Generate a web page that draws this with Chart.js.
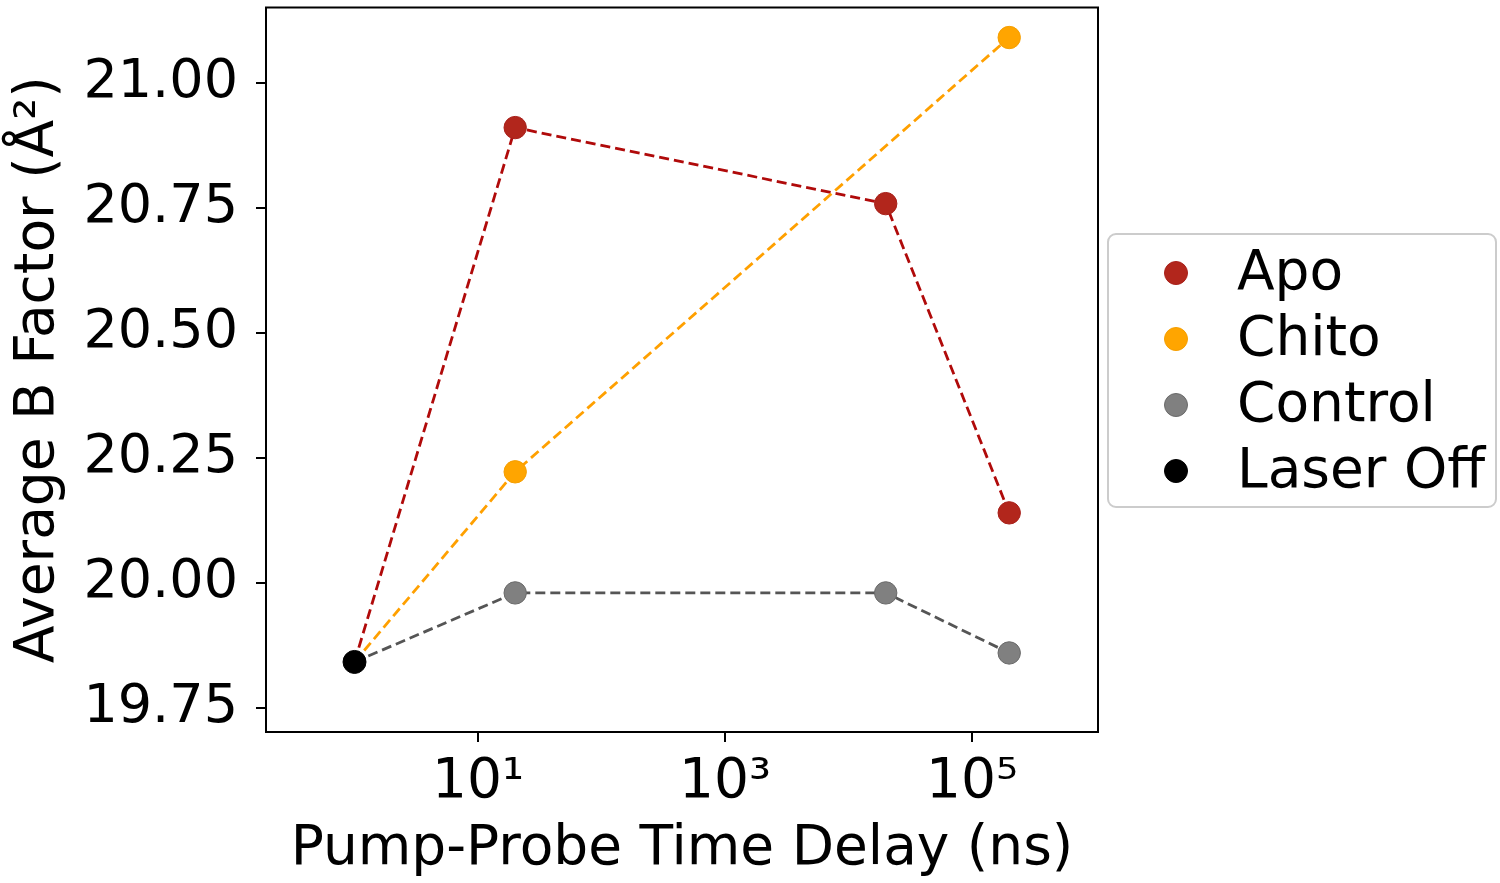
<!DOCTYPE html>
<html><head><meta charset="utf-8">
<script src="https://cdn.jsdelivr.net/npm/chart.js@4"></script>
<style>html,body{margin:0;padding:0;background:#fff;overflow:hidden}</style>
</head><body>
<canvas id="c" width="1500" height="883"></canvas>
<script>
// ---- data ----
const delays = [1, 20, 20000, 200000];
const chitoDelays = [1, 20, 200000];
const apoB = [19.842, 20.91, 20.758, 20.14];
const chitoB = [19.842, 20.222, 21.09];
const controlB = [19.842, 19.98, 19.98, 19.86];
const laserOffDelay = [1];
const laserOffB = [19.842];
const seriesNames = ['Apo', 'Chito', 'Control', 'Laser Off'];
const xTickValues = [10, 1000, 100000];
const xTickLabels = ['10\u00B9', '10\u00B3', '10\u2075'];
const yTickValues = [19.75, 20.00, 20.25, 20.50, 20.75, 21.00];

const pts = (xs, ys) => xs.map((x, i) => ({ x: x, y: ys[i] }));
const FONT = 'DejaVu Sans';
Chart.defaults.font.family = FONT;

const frame = {
  id: 'frame',
  afterDraw(chart) {
    const a = chart.chartArea, ctx = chart.ctx;
    ctx.save();
    ctx.strokeStyle = '#000';
    ctx.lineWidth = 2;
    ctx.strokeRect(a.left, a.top, a.right - a.left, a.bottom - a.top);
    ctx.restore();
  }
};

const legendBox = {
  id: 'legendBox',
  afterDraw(chart) {
    const ctx = chart.ctx;
    const x0 = 1108, y0 = 234, w = 388, h = 273, r = 8;
    ctx.save();
    ctx.beginPath();
    ctx.roundRect(x0, y0, w, h, r);
    ctx.fillStyle = 'rgba(255,255,255,0.8)';
    ctx.fill();
    ctx.strokeStyle = '#cccccc';
    ctx.lineWidth = 2;
    ctx.stroke();
    const ds = chart.data.datasets;
    ctx.font = '55px "' + FONT + '"';
    ctx.textBaseline = 'middle';
    ctx.textAlign = 'left';
    ds.forEach((d, i) => {
      const cy = 273 + i * 66;
      ctx.beginPath();
      ctx.arc(1176, cy, 11.5, 0, Math.PI * 2);
      ctx.fillStyle = d.pointBackgroundColor;
      ctx.fill();
      ctx.lineWidth = 1;
      ctx.strokeStyle = d.pointBorderColor;
      ctx.stroke();
      ctx.fillStyle = '#000';
      ctx.fillText(d.label, 1237, cy + 2);
    });
    ctx.restore();
  }
};

const lineDs = (label, data, lineColor, fill, edge, order) => ({
  label: label,
  data: data,
  showLine: true,
  borderColor: lineColor,
  borderWidth: 2.8,
  borderDash: [10, 5],
  pointRadius: data.map((p, i) => i === 0 ? 0 : 11.2),
  pointHoverRadius: data.map((p, i) => i === 0 ? 0 : 11.2),
  pointBackgroundColor: fill,
  pointBorderColor: edge,
  pointBorderWidth: 1,
  order: order
});

new Chart(document.getElementById('c'), {
  type: 'scatter',
  data: {
    datasets: [
      lineDs(seriesNames[0], pts(delays, apoB), '#b00a0a', '#b2261c', '#a8201a', 2),
      lineDs(seriesNames[1], pts(chitoDelays, chitoB), '#ffa000', '#ffa500', '#f59e00', 1),
      lineDs(seriesNames[2], pts(delays, controlB), '#555555', '#808080', '#6a6a6a', 3),
      {
        label: seriesNames[3],
        data: pts(laserOffDelay, laserOffB),
        showLine: false,
        pointRadius: 11.5,
        pointBackgroundColor: '#000000',
        pointBorderColor: '#000000',
        pointBorderWidth: 1,
        order: 0
      }
    ]
  },
  options: {
    responsive: false,
    animation: false,
    devicePixelRatio: 1,
    layout: { autoPadding: false, padding: { top: 7.5, left: 0, right: 402, bottom: 0 } },
    plugins: { legend: { display: false }, tooltip: { enabled: false } },
    scales: {
      x: {
        type: 'logarithmic',
        min: 0.192,
        max: 1.047e6,
        afterFit(s) { s.height = 151; s.paddingLeft = 0; s.paddingRight = 0; },
        afterBuildTicks(s) { s.ticks = xTickValues.map(v => ({ value: v })); },
        ticks: {
          color: '#000',
          font: { size: 55 },
          padding: 8,
          maxRotation: 0,
          autoSkip: false,
          callback: (v) => { const i = xTickValues.indexOf(v); return i >= 0 ? xTickLabels[i] : ''; }
        },
        grid: { drawOnChartArea: false, drawTicks: true, tickLength: 10, color: '#000', lineWidth: 2 },
        border: { display: true, color: '#000', width: 2 },
        title: { display: true, text: 'Pump-Probe Time Delay (ns)', color: '#000', font: { size: 55 }, padding: { top: 0, bottom: 0 } }
      },
      y: {
        type: 'linear',
        min: 19.702,
        max: 21.15,
        afterFit(s) { s.width = 266; s.paddingTop = 0; s.paddingBottom = 0; },
        afterBuildTicks(s) { s.ticks = yTickValues.map(v => ({ value: v })); },
        ticks: {
          color: '#000',
          font: { size: 54 },
          padding: 18,
          callback: (v) => Number(v).toFixed(2)
        },
        grid: { drawOnChartArea: false, drawTicks: true, tickLength: 10, color: '#000', lineWidth: 2 },
        border: { display: true, color: '#000', width: 2 },
        title: { display: true, text: 'Average B Factor (\u00C5\u00B2)', color: '#000', font: { size: 55 }, padding: { top: 6, bottom: 0 } }
      }
    }
  },
  plugins: [frame, legendBox]
});
</script>
</body></html>
